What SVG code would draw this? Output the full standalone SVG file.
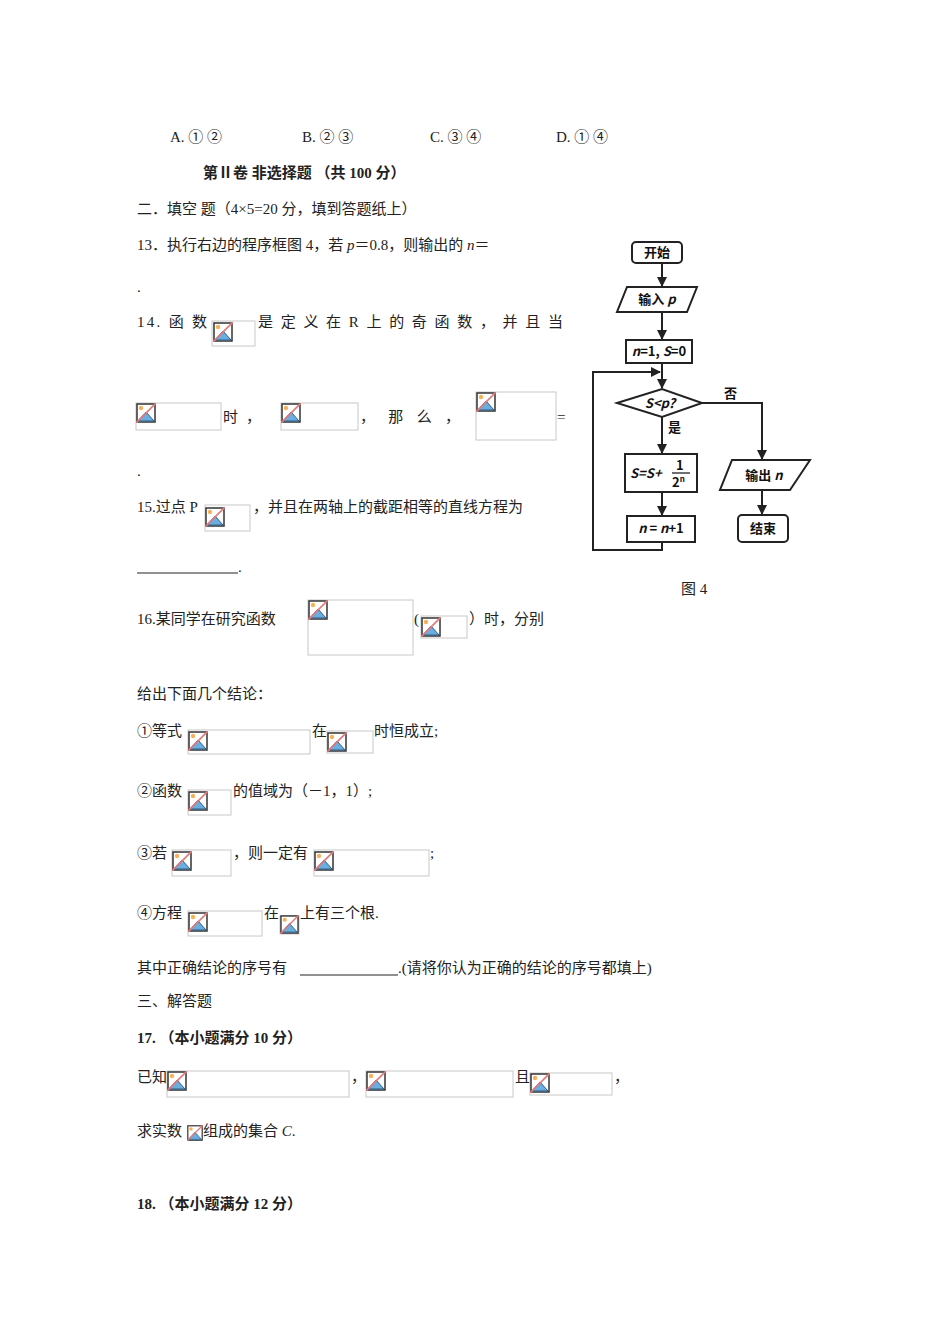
<svg xmlns="http://www.w3.org/2000/svg" width="950" height="1344" viewBox="0 0 950 1344">
<style>
text{font-family:"Liberation Serif","Noto Sans CJK SC",serif;font-size:15px;fill:#222}
.b{font-weight:bold}
.box{fill:#fff;stroke:#c8c8c8;stroke-width:1}
.fc{fill:#fff;stroke:#222;stroke-width:2}
.ln{fill:none;stroke:#222;stroke-width:2}
.ft{font-family:"Noto Sans CJK SC",sans-serif;font-size:13px;font-weight:bold;fill:#111}
</style>
<defs>
<symbol id="ic" viewBox="0 0 20 20">
<rect x="1" y="1" width="18" height="18" fill="#fff" stroke="#333" stroke-width="1.5"/>
<circle cx="5" cy="5" r="2.2" fill="#f5b25a"/>
<path d="M2 18 L10 9 L18 18 Z" fill="#6aaee0" stroke="#2c5f8a" stroke-width="1"/>
<line x1="0" y1="20" x2="20" y2="0" stroke="#e07a7a" stroke-width="1.6"/>
</symbol>
<marker id="ar" viewBox="0 0 10 10" refX="9" refY="5" markerWidth="5" markerHeight="5" orient="auto"><path d="M0 0 L10 5 L0 10 Z" fill="#222"/></marker>
</defs>
<rect width="950" height="1344" fill="#fff"/>
<text x="170" y="142">A. ① ②</text>
<text x="302" y="142">B. ② ③</text>
<text x="430" y="142">C. ③ ④</text>
<text x="556" y="142">D. ① ④</text>
<text x="203" y="178" class="b">第Ⅱ卷  非选择题   （共 100 分）</text>
<text x="137" y="214">二．填空 题（4×5=20 分，填到答题纸上）</text>
<text x="137" y="250">13．执行右边的程序框图 4，若 <tspan font-style="italic">p</tspan>＝0.8，则输出的 <tspan font-style="italic">n</tspan>＝</text>
<text x="137" y="292">.</text>
<text x="137" y="327" textLength="70" lengthAdjust="spacing">14. 函 数</text>
<text x="258" y="327" textLength="305" lengthAdjust="spacing">是定义在R上的奇函数，并且当</text>
<text x="223" y="422" textLength="38" lengthAdjust="spacing">时，</text>
<text x="360" y="422" textLength="100" lengthAdjust="spacing">，那么，</text>
<text x="557" y="422">=</text>
<text x="137" y="476">.</text>
<text x="137" y="512">15.过点 P</text>
<text x="253" y="512">，并且在两轴上的截距相等的直线方程为</text>
<line x1="137" y1="573" x2="238" y2="573" stroke="#222"/>
<text x="238" y="572">.</text>
<text x="137" y="624">16.某同学在研究函数</text>
<text x="414" y="624">(</text>
<text x="469" y="624">）时，分别</text>
<text x="137" y="699">给出下面几个结论：</text>
<text x="137" y="736">①等式</text>
<text x="312" y="736">在</text>
<text x="374" y="736">时恒成立;</text>
<text x="137" y="796">②函数</text>
<text x="233" y="796">的值域为（－1，1）;</text>
<text x="137" y="858">③若</text>
<text x="233" y="858">，则一定有</text>
<text x="430" y="858">;</text>
<text x="137" y="918">④方程</text>
<text x="264" y="918">在</text>
<text x="300" y="918">上有三个根.</text>
<text x="137" y="973">其中正确结论的序号有</text>
<line x1="300" y1="975" x2="398" y2="975" stroke="#222"/>
<text x="398" y="973">.(请将你认为正确的结论的序号都填上)</text>
<text x="137" y="1006">三、解答题</text>
<text x="137" y="1043" class="b">17.  （本小题满分 10 分）</text>
<text x="137" y="1082">已知</text>
<text x="351" y="1082">，</text>
<text x="515" y="1082">且</text>
<text x="614" y="1082">，</text>
<text x="137" y="1136">求实数</text>
<text x="203" y="1136">组成的集合 <tspan font-style="italic">C</tspan>.</text>
<text x="137" y="1209" class="b">18.  （本小题满分 12 分）</text>

<g id="imgs">
<rect class="box" x="212" y="321" width="43" height="25"/><use href="#ic" x="213" y="322" width="20" height="20"/>
<rect class="box" x="136" y="403" width="85" height="27"/><use href="#ic" x="136" y="403" width="20" height="20"/>
<rect class="box" x="281" y="403" width="77" height="27"/><use href="#ic" x="281" y="403" width="20" height="20"/>
<rect class="box" x="476" y="392" width="80" height="48"/><use href="#ic" x="476" y="392" width="20" height="20"/>
<rect class="box" x="205" y="505" width="45" height="26"/><use href="#ic" x="205" y="507" width="20" height="20"/>
<rect class="box" x="308" y="600" width="105" height="55"/><use href="#ic" x="308" y="600" width="20" height="20"/>
<rect class="box" x="421" y="616" width="46" height="22"/><use href="#ic" x="421" y="617" width="20" height="20"/>
<rect class="box" x="188" y="730" width="122" height="24"/><use href="#ic" x="188" y="731" width="20" height="20"/>
<rect class="box" x="327" y="731" width="46" height="22"/><use href="#ic" x="327" y="732" width="20" height="20"/>
<rect class="box" x="188" y="790" width="43" height="25"/><use href="#ic" x="188" y="791" width="20" height="20"/>
<rect class="box" x="172" y="850" width="59" height="26"/><use href="#ic" x="172" y="851" width="20" height="20"/>
<rect class="box" x="314" y="850" width="115" height="26"/><use href="#ic" x="314" y="851" width="20" height="20"/>
<rect class="box" x="188" y="911" width="74" height="25"/><use href="#ic" x="188" y="912" width="20" height="20"/>
<rect class="box" x="280" y="916" width="19" height="18"/><use href="#ic" x="280" y="915" width="19" height="19"/>
<rect class="box" x="167" y="1071" width="182" height="26"/><use href="#ic" x="167" y="1071" width="20" height="20"/>
<rect class="box" x="366" y="1071" width="147" height="26"/><use href="#ic" x="366" y="1071" width="20" height="20"/>
<rect class="box" x="530" y="1073" width="82" height="22"/><use href="#ic" x="530" y="1073" width="20" height="20"/>
<use href="#ic" x="187" y="1125" width="16" height="16"/>
</g>

<g id="connectors">
<line class="ln" x1="662" y1="263" x2="662" y2="286" marker-end="url(#ar)"/>
<line class="ln" x1="662" y1="312" x2="662" y2="339" marker-end="url(#ar)"/>
<line class="ln" x1="662" y1="363" x2="662" y2="388" marker-end="url(#ar)"/>
<line class="ln" x1="662" y1="417" x2="662" y2="453" marker-end="url(#ar)"/>
<line class="ln" x1="662" y1="492" x2="662" y2="515" marker-end="url(#ar)"/>
<polyline class="ln" points="662,542 662,550 593,550 593,372 660,372" marker-end="url(#ar)"/>
<polyline class="ln" points="702,403 762,403 762,459" marker-end="url(#ar)"/>
<line class="ln" x1="762" y1="490" x2="762" y2="514" marker-end="url(#ar)"/>
</g>
<g id="n-start"><rect class="fc" x="632" y="242" width="50" height="21" rx="4"/><text class="ft" x="657" y="257" text-anchor="middle">开始</text></g>
<g id="n-input"><polygon class="fc" points="627,287 697,287 687,312 617,312"/><text class="ft" x="657" y="304" text-anchor="middle">输入 <tspan font-style="italic">p</tspan></text></g>
<g id="n-init"><rect class="fc" x="626" y="340" width="66" height="23"/><text class="ft" x="659" y="356" text-anchor="middle" font-size="12"><tspan font-style="italic">n</tspan>=1, <tspan font-style="italic">S</tspan>=0</text></g>
<g id="n-cond"><polygon class="fc" points="617,403 662,389 702,403 662,417"/><text class="ft" x="660" y="408" text-anchor="middle" font-style="italic" font-weight="normal">S&lt;p?</text></g>
<text class="ft" x="724" y="398">否</text>
<text class="ft" x="668" y="432">是</text>
<g id="n-sum"><rect class="fc" x="625" y="454" width="72" height="38"/><text class="ft" x="630" y="478" font-style="italic" font-weight="normal" font-size="14">S=S+</text><text class="ft" x="676" y="470" font-size="12">1</text><line x1="672" y1="473" x2="690" y2="473" stroke="#111" stroke-width="1.2"/><text class="ft" x="672" y="487" font-size="11">2<tspan font-size="8" dy="-5">n</tspan></text></g>
<g id="n-inc"><rect class="fc" x="627" y="516" width="68" height="26"/><text class="ft" x="661" y="533" text-anchor="middle" font-size="12"><tspan font-style="italic">n</tspan> = <tspan font-style="italic">n</tspan>+1</text></g>
<g id="n-out"><polygon class="fc" points="732,460 810,460 790,490 720,490"/><text class="ft" x="764" y="480" text-anchor="middle">输出 <tspan font-style="italic">n</tspan></text></g>
<g id="n-end"><rect class="fc" x="738" y="515" width="50" height="27" rx="4"/><text class="ft" x="763" y="533" text-anchor="middle">结束</text></g>
<text x="681" y="594" font-family="Liberation Sans,Noto Sans CJK SC,sans-serif" font-size="14">图 4</text>
</svg>
